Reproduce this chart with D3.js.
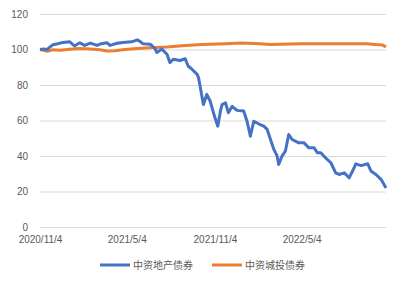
<!DOCTYPE html>
<html>
<head>
<meta charset="utf-8">
<script src="https://cdn.jsdelivr.net/npm/d3@7"></script>
<style>
  body { margin: 0; background: #fff; }
  svg { display: block; font-family: "Liberation Sans", Arial, sans-serif; }
</style>
</head>
<body>
<script>
// 中资地产债券
var propDates = ["2020-11-04","2020-11-12","2020-11-19","2020-11-25","2020-12-01","2020-12-11","2020-12-22",
  "2021-01-05","2021-01-15","2021-01-26","2021-02-05","2021-02-17","2021-03-03","2021-03-12","2021-03-24",
  "2021-03-30","2021-04-14","2021-04-26","2021-05-14","2021-05-26","2021-06-01","2021-06-07","2021-06-22",
  "2021-07-02","2021-07-06","2021-07-16","2021-07-27","2021-08-02","2021-08-09","2021-08-23","2021-09-03",
  "2021-09-09","2021-09-17","2021-09-28","2021-10-01","2021-10-04","2021-10-11","2021-10-18","2021-10-25",
  "2021-11-03","2021-11-10","2021-11-16","2021-11-19","2021-11-26","2021-12-02","2021-12-10","2021-12-20",
  "2022-01-03","2022-01-10","2022-01-17","2022-01-24","2022-02-04","2022-02-14","2022-02-21","2022-02-28",
  "2022-03-07","2022-03-14","2022-03-17","2022-03-24","2022-03-31","2022-04-07","2022-04-14","2022-04-21",
  "2022-04-28","2022-05-09","2022-05-19","2022-05-30","2022-06-06","2022-06-13","2022-06-23","2022-07-04",
  "2022-07-14","2022-07-21","2022-08-01","2022-08-11","2022-08-18","2022-08-25","2022-09-05","2022-09-19",
  "2022-09-26","2022-10-06","2022-10-17","2022-10-27"];
var propValues = [100,100.3,100,101.5,102.7,103.2,104,
  104.3,102,103.8,102.3,103.6,102.3,103.3,103.8,
  102.3,103.5,104,104.3,105.4,104.5,103.2,103,
  100.5,98.3,100.2,97.3,92.6,94.5,93.8,94.8,
  90.7,88.9,86,84,79.4,69,74.7,71,
  62.5,56.8,66,69,70,64.4,68,65.7,
  65.3,59.6,51.2,59.6,58,56.8,55,49.3,
  43.7,39.9,35.2,39.9,42.7,52.1,49.3,48.4,
  47.4,47.4,44.6,44.6,41.8,41.8,38.9,36.2,
  30.5,29.6,30.5,27.7,31.4,35.6,34.6,35.6,
  31.4,29.6,26.7,22];

// 中资城投债券
var lgfvDates = ["2020-11-04","2020-11-12","2020-11-19","2020-11-30","2020-12-16","2021-01-05","2021-01-26",
  "2021-02-17","2021-03-09","2021-03-24","2021-04-09","2021-04-30","2021-05-26","2021-06-22","2021-07-27",
  "2021-09-03","2021-10-08","2021-11-26","2021-12-27","2022-01-27","2022-02-28","2022-05-02","2022-07-04",
  "2022-09-16","2022-10-06","2022-10-19","2022-10-27"];
var lgfvValues = [100,99.6,99,99.8,99.6,100.2,100.6,
  100.3,99.8,99.2,99.3,100,100.6,101,101.4,
  102.3,102.8,103.2,103.6,103.4,102.8,103.2,103.2,
  103.3,102.8,102.6,101.5];

var seriesNames = ["中资地产债券", "中资城投债券"];
var seriesColors = ["#4472C4", "#ED7D31"];
var xTicks = ["2020-11-04", "2021-05-04", "2021-11-04", "2022-05-04"];
var yTicks = [0, 20, 40, 60, 80, 100, 120];

var width = 402, height = 282;
var margin = {top: 14, right: 16, bottom: 55, left: 40};

var parse = d3.timeParse("%Y-%m-%d");
var fmt = function(d) { return d.getFullYear() + "/" + (d.getMonth() + 1) + "/" + d.getDate(); };

var svg = d3.select("body").append("svg")
    .attr("width", width)
    .attr("height", height);

var x = d3.scaleTime()
    .domain([parse(propDates[0]), parse(propDates[propDates.length - 1])])
    .range([margin.left, width - margin.right]);

var y = d3.scaleLinear()
    .domain([0, 120])
    .range([height - margin.bottom, margin.top]);

// gridlines
svg.append("g")
    .attr("class", "grid")
    .attr("transform", "translate(" + margin.left + ",0)")
    .call(d3.axisLeft(y).tickValues(yTicks).tickSize(-(width - margin.left - margin.right)).tickFormat(""))
    .call(function(g) {
      g.select(".domain").remove();
      g.selectAll("line").attr("stroke", "#d9d9d9").attr("stroke-width", 1);
    });

// y labels
svg.append("g")
    .attr("transform", "translate(" + (margin.left - 12) + ",0)")
    .call(d3.axisLeft(y).tickValues(yTicks).tickSize(0).tickPadding(0))
    .call(function(g) {
      g.select(".domain").remove();
      g.selectAll("text").attr("fill", "#595959").style("font-size", "10px");
    });

// x labels
svg.append("g")
    .attr("transform", "translate(0," + (height - margin.bottom + 6) + ")")
    .call(d3.axisBottom(x).tickValues(xTicks.map(parse)).tickFormat(fmt).tickSize(0).tickPadding(3))
    .call(function(g) {
      g.select(".domain").remove();
      g.selectAll("text").attr("fill", "#595959").style("font-size", "10px");
    });

var line = d3.line()
    .x(function(d) { return x(d.date); })
    .y(function(d) { return y(d.value); });

var propData = propDates.map(function(d, i) { return {date: parse(d), value: propValues[i]}; });
var lgfvData = lgfvDates.map(function(d, i) { return {date: parse(d), value: lgfvValues[i]}; });

svg.append("path")
    .datum(lgfvData)
    .attr("fill", "none")
    .attr("stroke", seriesColors[1])
    .attr("stroke-width", 3)
    .attr("stroke-linejoin", "round")
    .attr("d", line);

svg.append("path")
    .datum(propData)
    .attr("fill", "none")
    .attr("stroke", seriesColors[0])
    .attr("stroke-width", 3)
    .attr("stroke-linejoin", "round")
    .attr("d", line);

// legend
var legendX = [100, 212];
var legend = svg.append("g");
seriesNames.forEach(function(name, i) {
  legend.append("line")
      .attr("x1", legendX[i]).attr("x2", legendX[i] + 30)
      .attr("y1", 265).attr("y2", 265)
      .attr("stroke", seriesColors[i])
      .attr("stroke-width", 3);
  legend.append("text")
      .attr("x", legendX[i] + 33)
      .attr("y", 268.5)
      .attr("fill", "#595959")
      .style("font-size", "10px")
      .style("font-family", "'Noto Sans CJK SC', sans-serif")
      .text(name);
});
</script>
</body>
</html>
